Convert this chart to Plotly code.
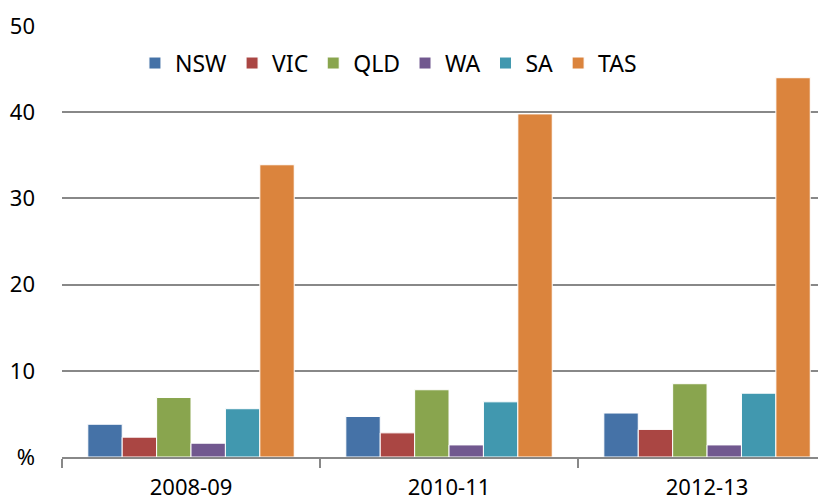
import plotly.graph_objects as go

years = ["2008-09", "2010-11", "2012-13"]
states = ["NSW", "VIC", "QLD", "WA", "SA", "TAS"]
nsw = [3.8, 4.7, 5.1]
vic = [2.3, 2.8, 3.2]
qld = [6.9, 7.8, 8.5]
wa = [1.6, 1.4, 1.4]
sa = [5.6, 6.4, 7.4]
tas = [33.9, 39.8, 44.0]
colors = ["#4572A7", "#AA4643", "#89A54E", "#71588F", "#4198AF", "#DB843D"]
ytick_vals = [0, 10, 20, 30, 40, 50]
ytick_text = ["%", "10", "20", "30", "40", "50"]

series = [nsw, vic, qld, wa, sa, tas]
FONT = "Noto Sans"
fig = go.Figure()
for name, vals, col in zip(states, series, colors):
    fig.add_trace(go.Bar(x=years, y=vals, name=name,
                         marker=dict(color=col, line=dict(color="white", width=1))))

fig.update_layout(
    width=818, height=492,
    margin=dict(l=54, r=0, t=18, b=43, autoexpand=False),
    paper_bgcolor="white", plot_bgcolor="white",
    barmode="group", bargap=0.2, bargroupgap=0,
    font=dict(family=FONT, size=22, color="black"),
    legend=dict(orientation="h", x=0.0955, y=0.914, xanchor="left", yanchor="middle",
                font=dict(family=FONT, size=23), itemwidth=30,
                bgcolor="rgba(0,0,0,0)"),
    xaxis=dict(type="category", range=[-0.5, 2.461], showline=True, linecolor="#888888", linewidth=2,
               ticks="outside", tickson="boundaries", ticklen=9, tickcolor="#888888",
               tickwidth=2, ticklabelstandoff=10, showgrid=False, automargin=False,
               tickfont=dict(family=FONT, size=22)),
    yaxis=dict(range=[0, 50], tickvals=ytick_vals, ticktext=ytick_text,
               showgrid=True, gridcolor="#888888", gridwidth=2, zeroline=False,
               showline=False, ticks="", ticklabelstandoff=26, automargin=False,
               tickfont=dict(family=FONT, size=22)),
)

fig.write_html("out.html")
